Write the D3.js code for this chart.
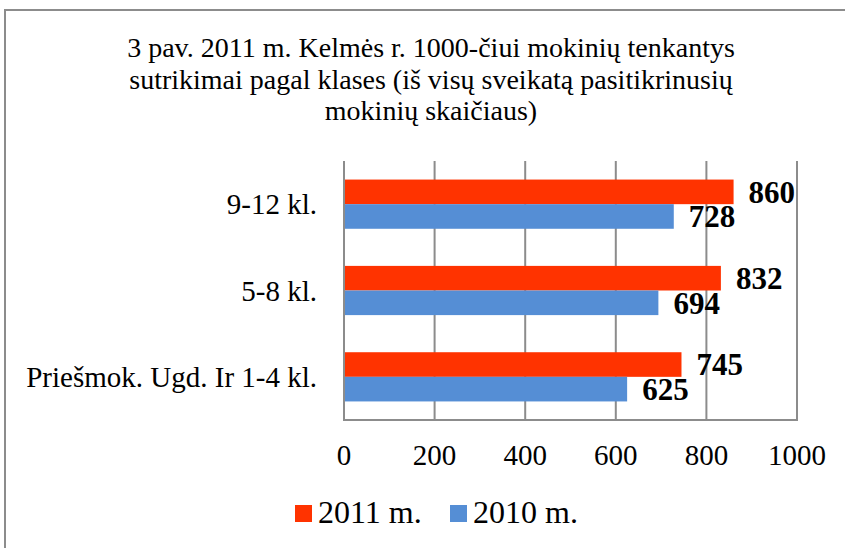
<!DOCTYPE html>
<html>
<head>
<meta charset="utf-8">
<script src="https://cdn.jsdelivr.net/npm/d3@7"></script>
<style>
  body { margin: 0; background: #fff; }
  svg { display: block; }
  text { font-family: "Liberation Serif", "DejaVu Serif", serif; fill: #000; }
</style>
</head>
<body>
<div id="graph"></div>
<script>
// chart data
const categories = ["9-12 kl.", "5-8 kl.", "Priešmok. Ugd. Ir 1-4 kl."];
const seriesNames = ["2011 m.", "2010 m."];
const values2011 = [860, 832, 745];
const values2010 = [728, 694, 625];
const xTicks = [0, 200, 400, 600, 800, 1000];
const titleLines = [
  "3 pav. 2011 m. Kelmės r. 1000-čiui mokinių tenkantys",
  "sutrikimai pagal klases (iš visų sveikatą pasitikrinusių",
  "mokinių skaičiaus)"
];

const width = 845, height = 548;
const colors = ["#ff3300", "#558ed5"];
const gridColor = "#8c8c8c";

// plot area
const plotLeft = 344, plotRight = 797, plotTop = 161, plotBottom = 420;

const svg = d3.select("#graph").append("svg")
  .attr("width", width)
  .attr("height", height);

// outer chart border (right/bottom edges sit outside the frame)
svg.append("rect")
  .attr("x", 5).attr("y", 10)
  .attr("width", 870).attr("height", 560)
  .attr("fill", "#fff")
  .attr("stroke", gridColor)
  .attr("stroke-width", 2);

// title
svg.append("text")
  .attr("text-anchor", "middle")
  .style("font-size", "28px")
  .selectAll("tspan")
  .data(titleLines)
  .enter()
  .append("tspan")
  .attr("x", 431)
  .attr("y", (d, i) => 57 + i * 31.5)
  .text(d => d);

const x = d3.scaleLinear().domain([0, 1000]).range([plotLeft, plotRight]);
const y = d3.scaleBand().domain(categories).range([plotTop, plotBottom]).paddingInner(0.43).paddingOuter(0.215);
const ySub = d3.scaleBand().domain(seriesNames).range([0, y.bandwidth()]);

// vertical grid lines
svg.append("g")
  .selectAll("line")
  .data(xTicks)
  .enter()
  .append("line")
  .attr("x1", d => x(d)).attr("x2", d => x(d))
  .attr("y1", plotTop).attr("y2", plotBottom)
  .attr("stroke", gridColor)
  .attr("stroke-width", 2);

// bottom axis line
svg.append("line")
  .attr("x1", plotLeft - 1).attr("x2", plotRight + 1)
  .attr("y1", plotBottom).attr("y2", plotBottom)
  .attr("stroke", gridColor)
  .attr("stroke-width", 2);

// x tick labels
svg.append("g")
  .selectAll("text")
  .data(xTicks)
  .enter()
  .append("text")
  .attr("x", d => x(d))
  .attr("y", 465)
  .attr("text-anchor", "middle")
  .style("font-size", "29px")
  .text(d => d);

// category labels
svg.append("g")
  .selectAll("text")
  .data(categories)
  .enter()
  .append("text")
  .attr("x", 317)
  .attr("y", d => y(d) + y.bandwidth() / 2)
  .attr("dy", "0.35em")
  .attr("text-anchor", "end")
  .style("font-size", "29px")
  .text(d => d);

// bars + labels for each series
const seriesValues = [values2011, values2010];
seriesNames.forEach((name, s) => {
  const rows = categories.map((c, i) => ({ cat: c, val: seriesValues[s][i] }));
  const g = svg.append("g");
  g.selectAll("rect")
    .data(rows)
    .enter()
    .append("rect")
    .attr("x", x(0) + 1)
    .attr("y", d => y(d.cat) + ySub(name))
    .attr("width", d => x(d.val) - x(0) - 1)
    .attr("height", ySub.bandwidth())
    .attr("fill", colors[s]);
  g.selectAll("text")
    .data(rows)
    .enter()
    .append("text")
    .attr("x", d => x(d.val) + 15)
    .attr("y", d => y(d.cat) + ySub(name) + ySub.bandwidth() / 2)
    .attr("dy", "0.35em")
    .style("font-size", "31px")
    .style("font-weight", "bold")
    .text(d => d.val);
});

// legend
const legendX = [295, 450];
const legend = svg.append("g")
  .selectAll("g")
  .data(seriesNames)
  .enter()
  .append("g")
  .attr("transform", (d, i) => "translate(" + legendX[i] + ",0)");
legend.append("rect")
  .attr("x", 0).attr("y", 505)
  .attr("width", 17).attr("height", 17)
  .attr("fill", (d, i) => colors[i]);
legend.append("text")
  .attr("x", 23).attr("y", 523)
  .style("font-size", "32px")
  .text(d => d);
</script>
</body>
</html>
